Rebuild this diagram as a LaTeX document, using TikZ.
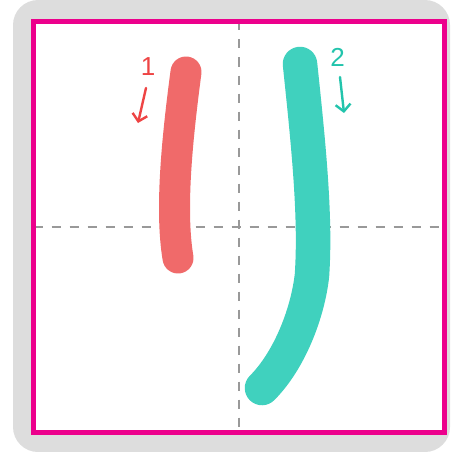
\documentclass[tikz,border=0pt]{standalone}
\usepackage{fontspec}
\setsansfont{Liberation Sans}
\usepackage{tikz}
\usetikzlibrary{arrows.meta,calc,positioning}
\definecolor{gridmag}{HTML}{EC008C}
\definecolor{bggray}{HTML}{DDDDDD}
\definecolor{strokered}{HTML}{F06A6A}
\definecolor{strokegreen}{HTML}{40D1BE}
\definecolor{labelred}{HTML}{EE4444}
\definecolor{labelgreen}{HTML}{22C4AC}

\begin{document}
\begin{tikzpicture}[x=1pt,y=-1pt,>={Straight Barb[length=7pt,width=15pt]},
  num/.style={font=\sffamily\fontsize{26}{26}\selectfont,inner sep=0pt},
  brush/.style={line width=#1,line cap=round,line join=round},
  hint/.style={->,line width=2.4pt,line cap=round}]
\useasboundingbox (0,0) rectangle (450,452);
\fill[bggray,rounded corners=25pt] (13,0) rectangle (450,452);
\fill[white] (33.5,21.5) rectangle (444,432);
\draw[gray!80,line width=1.5pt,dash pattern=on 9pt off 9pt] (238.75,21.5) -- (238.75,432) (33.5,226.75) -- (444,226.75);
\draw[gridmag,line width=5pt] (33.5,21.5) rectangle (444,432);
\draw[brush=31pt,strokered] (186,72) .. controls (177,140) and (170,210) .. (178,258);
\draw[brush=34.5pt,strokegreen] (300,64) .. controls (308,140) and (316,215) .. (312,275) .. controls (308,312) and (290,360) .. (262,388);
\node[num,text=labelred] (n1) at (148,66.5) {1};
\node[num,text=labelgreen] (n2) at (337.5,57.5) {2};
\coordinate (a1s) at (146,88);
\coordinate (a1e) at (138,123);
\coordinate (a2s) at (340,77);
\coordinate (a2e) at (344,113);
\foreach \s/\e/\c in {a1s/a1e/labelred,a2s/a2e/labelgreen} \draw[hint,\c] (\s) -- (\e);
\end{tikzpicture}
\end{document}
